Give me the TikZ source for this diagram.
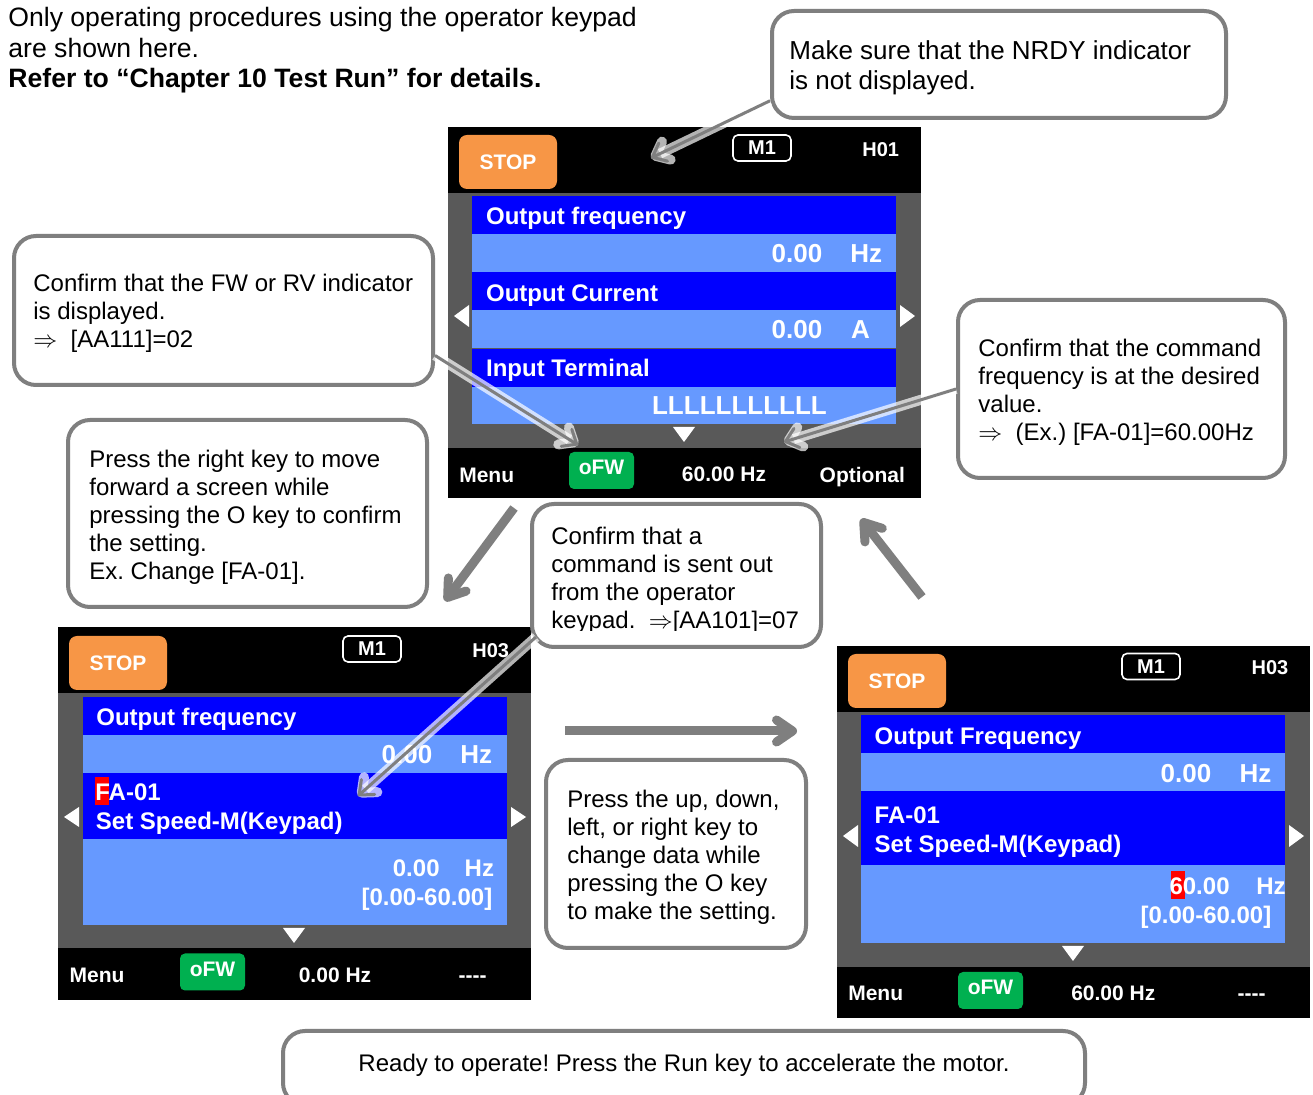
\documentclass[tikz,border=0pt]{standalone}
\usepackage{fontspec}
\setmainfont{Liberation Sans}
\usetikzlibrary{positioning,arrows.meta}

\definecolor{stoporange}{RGB}{247,150,70}
\definecolor{fwgreen}{RGB}{0,176,80}
\definecolor{rowdark}{RGB}{0,0,255}
\definecolor{rowlight}{RGB}{102,153,255}
\definecolor{panelgrey}{RGB}{89,89,89}
\definecolor{calloutgrey}{RGB}{127,127,127}

\newcommand{\thenarrow}{$\Rightarrow$}
\frenchspacing

\begin{document}
\begin{tikzpicture}[x=0.5pt,y=-0.5pt,
  callout/.style={draw=calloutgrey, line width=2pt, fill=white, rounded corners=11pt},
  note/.style={inner sep=0pt, align=left, font=\fontsize{12}{14}\selectfont},
  scrtxt/.style={text=white, inner sep=0pt, font=\bfseries\fontsize{12}{14}\selectfont},
  valtxt/.style={text=white, inner sep=0pt, font=\bfseries\fontsize{13}{15}\selectfont},
  bartxt/.style={text=white, inner sep=0pt, font=\bfseries\fontsize{10.5}{12}\selectfont},
  hdrtxt/.style={text=white, inner sep=0pt, font=\bfseries\fontsize{10}{12}\selectfont},
  stopkey/.style={fill=stoporange, rounded corners=4pt, minimum width=49pt, minimum height=27pt,
    text=white, font=\bfseries\fontsize{10.5}{12}\selectfont},
  mbox/.style={draw=white, line width=0.8pt, rounded corners=2.5pt, minimum width=29pt, minimum height=13pt,
    inner sep=0pt, hdrtxt},
  fwkey/.style={fill=fwgreen, rounded corners=2.5pt, minimum width=32.5pt, minimum height=18.5pt,
    text depth=3pt, bartxt},
  pointer/.style={draw=calloutgrey, line width=1.5pt, -{Straight Barb[length=6pt,width=10pt,round]},
    preaction={draw=white, line width=5pt, opacity=0.7}},
  bigarrow/.style={draw=calloutgrey, line width=4.5pt, -{Straight Barb[length=8pt,width=11pt,round]}}]

\useasboundingbox[fill=white] (0,0) rectangle (1313,1095);

% heading
\node[inner sep=0pt, anchor=north west, align=left, font=\fontsize{13.3}{15.25}\selectfont] (intro) at (8,7)
  {Only operating procedures using the operator keypad\\are shown here.\\\textbf{Refer to “Chapter 10 Test Run” for details.}};

% screen 1 (monitor)
\fill (448,127) rectangle (921,498);
\fill[panelgrey] (448,193) rectangle (921,448);
\fill[rowdark] (472,196) rectangle (896,234);
\fill[rowlight] (472,234) rectangle (896,272);
\fill[rowdark] (472,272) rectangle (896,310);
\fill[rowlight] (472,310) rectangle (896,348);
\fill[rowdark] (472,349) rectangle (896,387);
\fill[rowlight] (472,387) rectangle (896,424);
\fill[white] (469,305) -- (469,327) -- (454,316) -- cycle;
\fill[white] (900,305) -- (900,327) -- (915,316) -- cycle;
\fill[white] (673,427) -- (695,427) -- (684,442) -- cycle;
\node[stopkey] (s1stop) at (508,162) {STOP};
\node[mbox] (s1mode) at (762,148) {M1};
\node[hdrtxt, anchor=base] (s1page) at (880.7,156.5) {H01};
\node[scrtxt, anchor=base west] (s1r1) at (485.7,225) {Output frequency};
\node[valtxt, anchor=base east] (s1v1) at (822.7,263) {0.00};
\node[valtxt, anchor=base west] (s1u1) at (850,263) {Hz};
\node[scrtxt, anchor=base west] (s1r2) at (485.7,302) {Output Current};
\node[valtxt, anchor=base east] (s1v2) at (822.7,339) {0.00};
\node[valtxt, anchor=base west] (s1u2) at (850.7,339) {A};
\node[scrtxt, anchor=base west] (s1r3) at (485.7,377) {Input Terminal};
\node[valtxt, anchor=base west] (s1v3) at (651.7,415) {LLLLLLLLLLL};
\node[bartxt, anchor=base] (s1menu) at (486.7,482.7) {Menu};
\node[fwkey] (s1fw) at (601.5,470.5) {oFW};
\node[bartxt, anchor=base] (s1ref) at (724,481.7) {60.00 Hz};
\node[bartxt, anchor=base] (s1opt) at (862.3,482.7) {Optional};

% screen 2 (parameter selected)
\fill (58,627) rectangle (531,1000);
\fill[panelgrey] (58,693) rectangle (531,948);
\fill[rowdark] (83,697) rectangle (507,735);
\fill[rowlight] (83,735) rectangle (507,773);
\fill[rowdark] (83,773) rectangle (507,839);
\fill[rowlight] (83,839) rectangle (507,925);
\fill[red] (95,777) rectangle (109,805);
\fill[white] (79,807) -- (79,827) -- (64,817) -- cycle;
\fill[white] (511,807) -- (511,827) -- (526,817) -- cycle;
\fill[white] (283,928) -- (305,928) -- (294,943) -- cycle;
\node[stopkey] (s2stop) at (118,663) {STOP};
\node[mbox] (s2mode) at (372,649) {M1};
\node[hdrtxt, anchor=base] (s2page) at (490.7,657.3) {H03};
\node[scrtxt, anchor=base west] (s2r1) at (96,726) {Output frequency};
\node[valtxt, anchor=base east] (s2v1) at (432.7,764) {0.00};
\node[valtxt, anchor=base west] (s2u1) at (460,764) {Hz};
\node[scrtxt, anchor=base west] (s2code) at (95,800.7) {FA-01};
\node[scrtxt, anchor=base west] (s2name) at (95.5,829.3) {Set Speed-M(Keypad)};
\node[scrtxt, anchor=base east] (s2v2) at (440,877) {0.00};
\node[scrtxt, anchor=base west] (s2u2) at (464.3,877) {Hz};
\node[scrtxt, anchor=base east] (s2range) at (492.7,906) {[0.00-60.00]};
\node[bartxt, anchor=base] (s2menu) at (97,983) {Menu};
\node[fwkey] (s2fw) at (212.5,972) {oFW};
\node[bartxt, anchor=base] (s2ref) at (335,983) {0.00 Hz};
\node[bartxt, anchor=base] (s2opt) at (472.7,983) {-{}-{}-{}-};

% screen 3 (data changed)
\fill (837,646) rectangle (1310,1018);
\fill[panelgrey] (837,712) rectangle (1310,967);
\fill[rowdark] (861,715) rectangle (1285,753);
\fill[rowlight] (861,753) rectangle (1285,791);
\fill[rowdark] (861,791) rectangle (1285,865);
\fill[rowlight] (861,865) rectangle (1285,943);
\fill[red] (1171,871) rectangle (1185,899);
\fill[white] (858,825) -- (858,847) -- (843,836) -- cycle;
\fill[white] (1289,825) -- (1289,847) -- (1304,836) -- cycle;
\fill[white] (1062,946) -- (1084,946) -- (1073,961) -- cycle;
\node[stopkey] (s3stop) at (897,681) {STOP};
\node[mbox] (s3mode) at (1151,666.5) {M1};
\node[hdrtxt, anchor=base] (s3page) at (1270,675) {H03};
\node[scrtxt, anchor=base west] (s3r1) at (874.3,745) {Output Frequency};
\node[valtxt, anchor=base east] (s3v1) at (1211.7,782.7) {0.00};
\node[valtxt, anchor=base west] (s3u1) at (1239.3,782.7) {Hz};
\node[scrtxt, anchor=base west] (s3code) at (874.3,823.3) {FA-01};
\node[scrtxt, anchor=base west] (s3name) at (874.3,852.3) {Set Speed-M(Keypad)};
\node[scrtxt, anchor=base east] (s3v2) at (1230,895) {60.00};
\node[scrtxt, anchor=base west] (s3u2) at (1256,895) {Hz};
\node[scrtxt, anchor=base east] (s3range) at (1271.7,924) {[0.00-60.00]};
\node[bartxt, anchor=base] (s3menu) at (875.7,1001) {Menu};
\node[fwkey] (s3fw) at (990.5,990.5) {oFW};
\node[bartxt, anchor=base] (s3ref) at (1113.3,1001) {60.00 Hz};
\node[bartxt, anchor=base] (s3opt) at (1251.7,1001) {-{}-{}-{}-};

% flow between screens
\coordinate (s1out) at (514,508);
\coordinate (s2in) at (445,601);
\coordinate (s2out) at (565,731);
\coordinate (s3in) at (797,731);
\coordinate (s3out) at (922,597);
\coordinate (s1in) at (861,519);
\draw[bigarrow] (s1out) -- (s2in);
\draw[bigarrow] (s2out) -- (s3in);
\draw[bigarrow] (s3out) -- (s1in);

% callouts
\node[callout, minimum width=227pt, minimum height=53.5pt] (nrdy) at (999,64.5) {};
\node[note, anchor=north west, font=\fontsize{13}{15}\selectfont] (nrdytxt) at (789,40)
  {Make sure that the NRDY indicator\\is not displayed.};
\node[callout, minimum width=209.5pt, minimum height=74.5pt] (fwrv) at (223.5,310.5) {};
\node[note, anchor=north west] (fwrvtxt) at (33,274)
  {Confirm that the FW or RV indicator\\is displayed.\\\thenarrow\ \ [AA111]=02};
\node[callout, minimum width=163.5pt, minimum height=89pt] (cmdfreq) at (1121.5,389) {};
\node[note, anchor=north west] (cmdfreqtxt) at (978,339)
  {Confirm that the command\\frequency is at the desired\\value.\\\thenarrow\ \ (Ex.) [FA-01]=60.00Hz};
\node[callout, minimum width=179.5pt, minimum height=93.5pt] (rightkey) at (247.5,513.5) {};
\node[note, anchor=north west] (rightkeytxt) at (89,450)
  {Press the right key to move\\forward a screen while\\pressing the O key to confirm\\the setting.\\Ex. Change [FA-01].};
\node[callout, minimum width=144.5pt, minimum height=71.5pt] (cmdsrc) at (676.5,575.5) {};
\begin{scope}
  \clip (534,506) rectangle (819,631);
  \node[note, anchor=north west] (cmdsrctxt) at (551,527)
    {Confirm that a\\command is sent out\\from the operator\\keypad.\ \ \thenarrow[AA101]=07};
\end{scope}
\node[callout, minimum width=130pt, minimum height=94pt] (updown) at (676,854) {};
\node[note, anchor=north west] (updowntxt) at (567,790)
  {Press the up, down,\\left, or right key to\\change data while\\pressing the O key\\to make the setting.};
\node[callout, minimum width=401pt, minimum height=37pt] (ready) at (684,1068) {};
\node[note, anchor=base] (readytxt) at (684,1071.6)
  {Ready to operate! Press the Run key to accelerate the motor.};

% pointers
\coordinate (nrdytip) at (651,158);
\coordinate (fwtip) at (578,445);
\coordinate (freqtip) at (784,442);
\coordinate (srctip) at (358,796);
\draw[pointer] (nrdy.189) -- (nrdytip);
\draw[pointer] (fwrv.348) -- (fwtip);
\draw[pointer] (cmdfreq.west) -- (freqtip);
\draw[pointer] ([shift={(3pt,6pt)}]cmdsrc.south west) -- (srctip);
\end{tikzpicture}
\end{document}
